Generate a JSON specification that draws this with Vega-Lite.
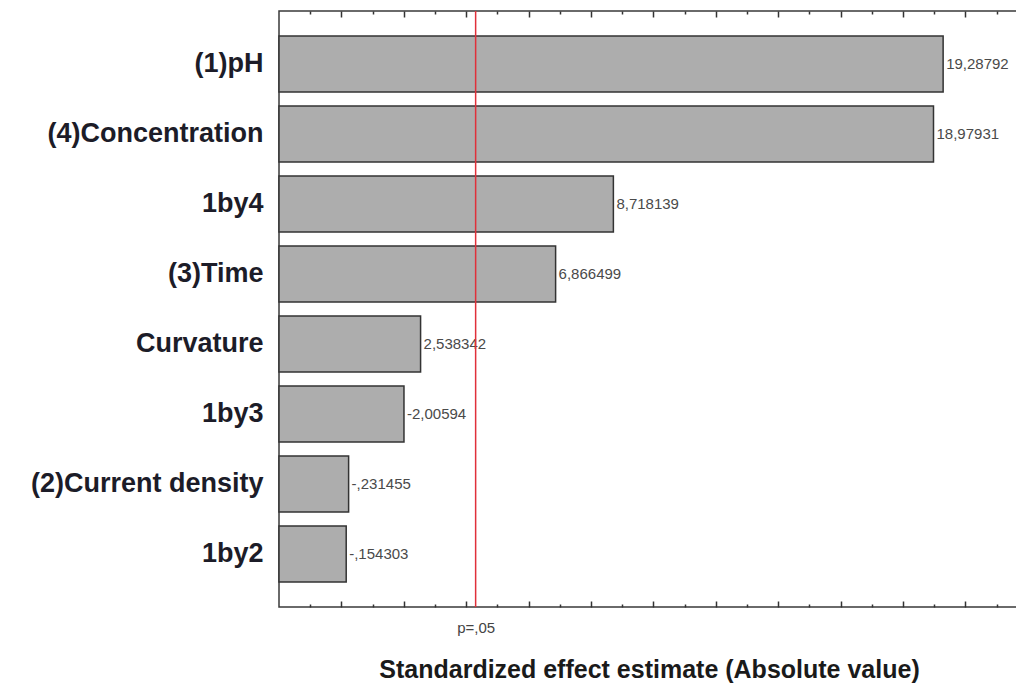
{
  "$schema": "https://vega.github.io/schema/vega-lite/v6.json",
  "autosize": "none",
  "padding": {"left": 279, "top": 11, "right": 0, "bottom": 79},
  "width": 740,
  "height": 596,
  "background": "white",
  "config": {
    "view": {"stroke": "#3a3a3a", "strokeWidth": 1.5},
    "font": "Liberation Sans"
  },
  "datasets": {
    "effects": [
      {"effect": "(1)pH", "estimate": 19.28792, "absEstimate": 19.28792, "label": "19,28792"},
      {"effect": "(4)Concentration", "estimate": 18.97931, "absEstimate": 18.97931, "label": "18,97931"},
      {"effect": "1by4", "estimate": 8.718139, "absEstimate": 8.718139, "label": "8,718139"},
      {"effect": "(3)Time\u2002", "estimate": 6.866499, "absEstimate": 6.866499, "label": "6,866499"},
      {"effect": "Curvature", "estimate": 2.538342, "absEstimate": 2.538342, "label": "2,538342"},
      {"effect": "1by3", "estimate": -2.00594, "absEstimate": 2.00594, "label": "-2,00594"},
      {"effect": "(2)Current density", "estimate": -0.231455, "absEstimate": 0.231455, "label": "-,231455"},
      {"effect": "1by2", "estimate": -0.154303, "absEstimate": 0.154303, "label": "-,154303"}
    ],
    "critical": [{"p": 0.05, "t": 4.303, "label": "p=,05"}]
  },
  "resolve": {"axis": {"x": "independent"}},
  "layer": [
    {
      "data": {"name": "effects"},
      "mark": {"type": "bar", "fill": "#adadad", "stroke": "#333333", "strokeWidth": 1.5},
      "encoding": {
        "y": {
          "field": "effect", "type": "nominal", "sort": null,
          "scale": {"paddingInner": 0.2, "paddingOuter": 0.357},
          "axis": {
            "title": null, "domain": false, "ticks": false,
            "labelFont": "Liberation Sans", "labelFontWeight": "bold",
            "labelFontSize": 27, "labelColor": "#1c1c28", "labelPadding": 16,
            "labelLimit": 300
          }
        },
        "x": {
          "field": "absEstimate", "type": "quantitative",
          "scale": {"domain": [-2, 21.72], "zero": false, "nice": false},
          "axis": {
            "orient": "bottom", "title": null, "labels": false, "domain": false, "grid": false,
            "values": [-1,0,1,2,3,4,5,6,7,8,9,10,11,12,13,14,15,16,17,18,19,20,21],
            "tickColor": "#333333", "tickWidth": 1.5,
            "tickSize": {"condition": {"test": "datum.value % 2 === 0", "value": -6}, "value": -3}
          }
        },
        "x2": {"datum": -2}
      }
    },
    {
      "data": {"name": "effects"},
      "mark": {"type": "text", "align": "left", "baseline": "middle", "dx": 3, "fontSize": 15, "color": "#4a4a4a"},
      "encoding": {
        "y": {"field": "effect", "type": "nominal", "sort": null},
        "x": {
          "field": "absEstimate", "type": "quantitative",
          "axis": {
            "orient": "top", "title": null, "labels": false, "domain": false, "grid": false,
            "values": [-1,0,1,2,3,4,5,6,7,8,9,10,11,12,13,14,15,16,17,18,19,20,21],
            "tickColor": "#333333", "tickWidth": 1.5,
            "tickSize": {"condition": {"test": "datum.value % 2 === 0", "value": -6}, "value": -3}
          }
        },
        "text": {"field": "label"}
      }
    },
    {
      "data": {"name": "critical"},
      "mark": {"type": "rule", "color": "#e0303a", "strokeWidth": 1.5},
      "encoding": {
        "x": {
          "field": "t", "type": "quantitative",
          "axis": {
            "orient": "bottom", "title": "Standardized effect estimate (Absolute value)",
            "values": [4.303], "labelExpr": "'p=,05'",
            "ticks": false, "domain": false, "grid": false,
            "labelFontSize": 15, "labelColor": "#444444", "labelPadding": 13,
            "titleFont": "Liberation Sans", "titleFontWeight": "bold", "titleFontSize": 25,
            "titleColor": "#1a1a1a", "titlePadding": 22
          }
        }
      }
    }
  ]
}
